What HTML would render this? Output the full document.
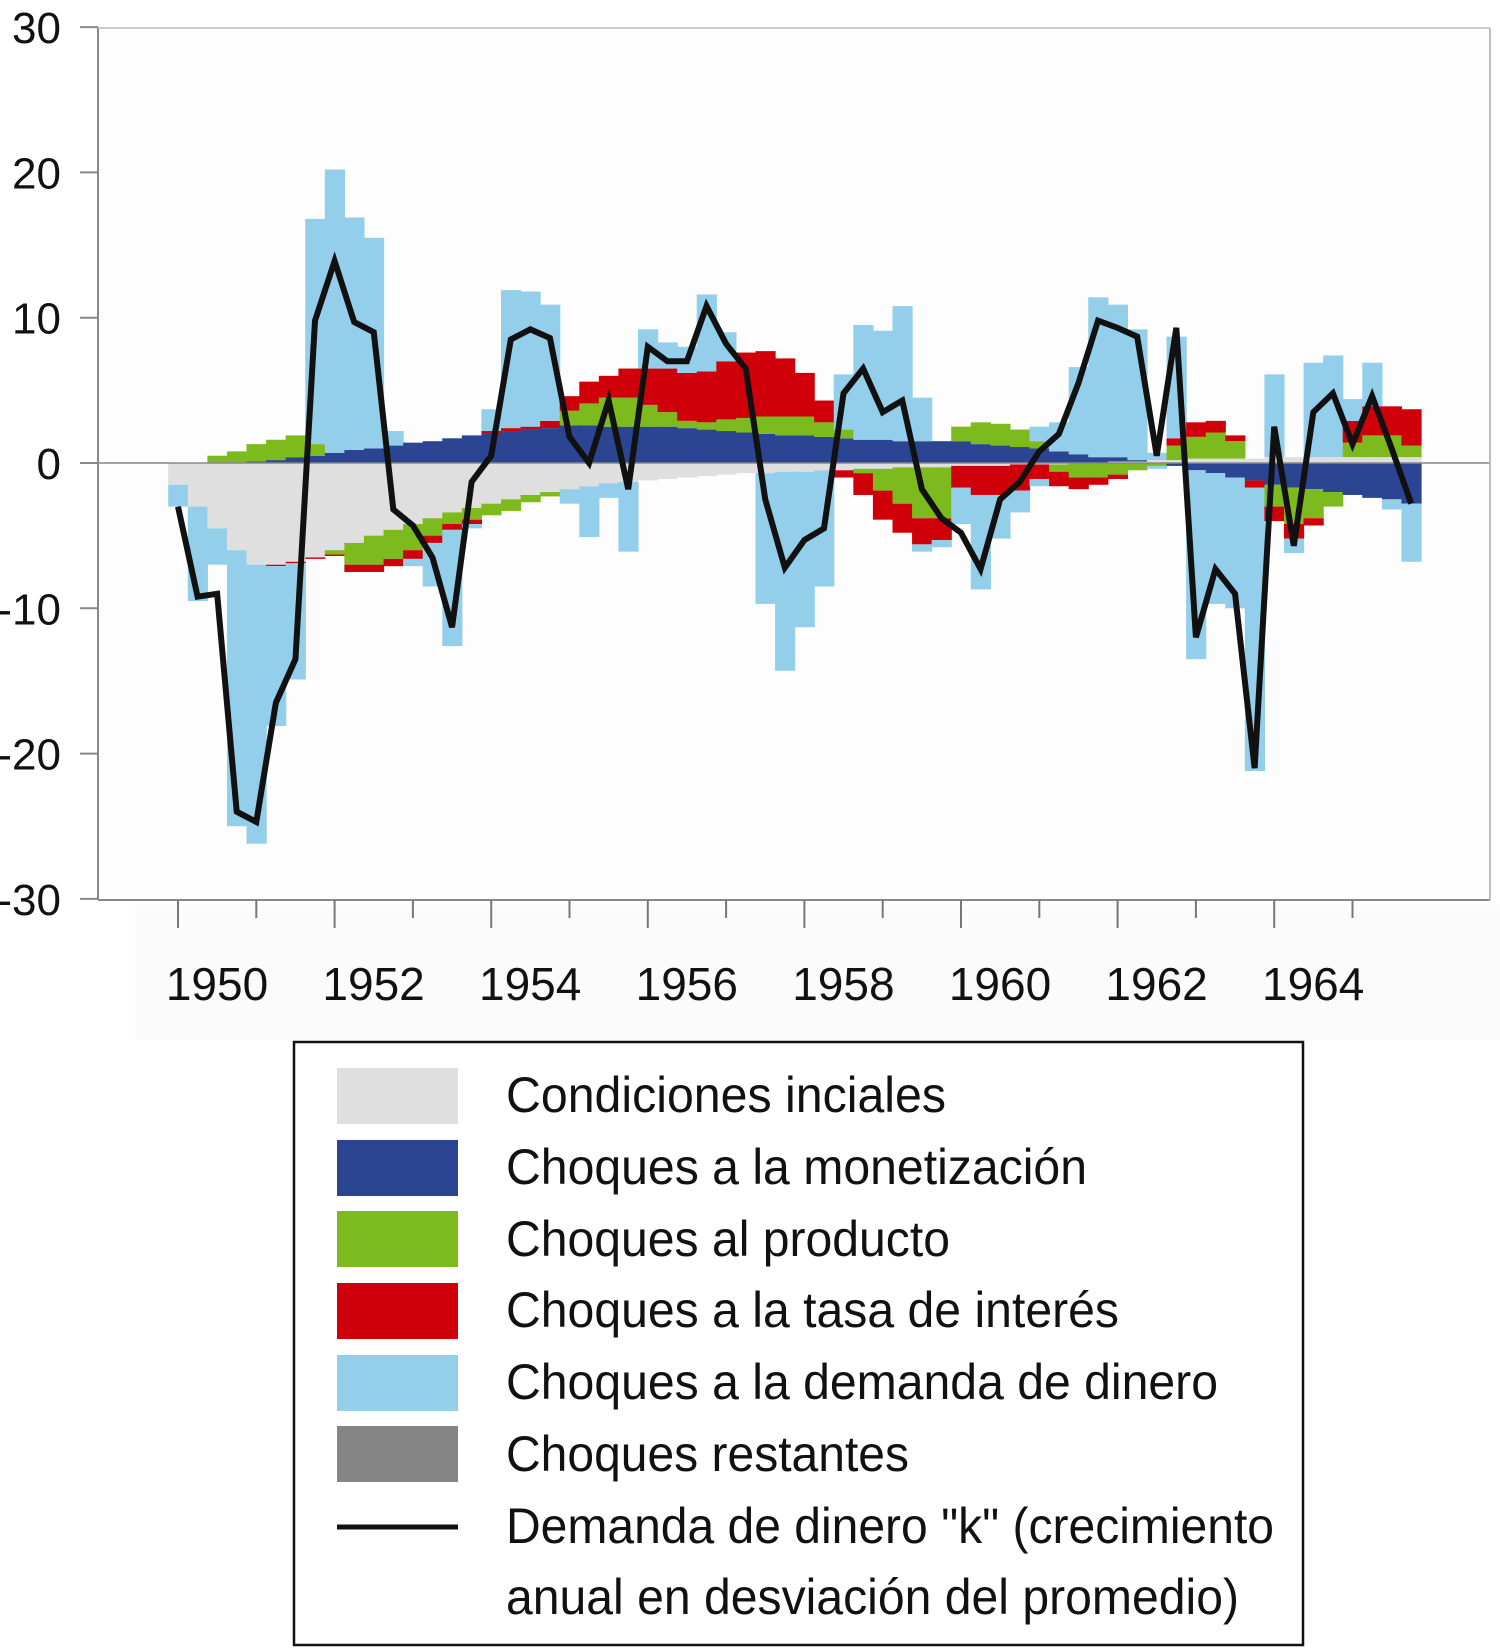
<!DOCTYPE html>
<html><head><meta charset="utf-8"><style>html,body{margin:0;padding:0;background:#fff}svg{display:block}</style></head>
<body>
<svg id="chart" width="1500" height="1651" viewBox="0 0 1500 1651" xmlns="http://www.w3.org/2000/svg" font-family="'Liberation Sans Narrow','Liberation Sans',sans-serif">
<rect x="135" y="905" width="1365" height="135" fill="#fbfbfb"/>
<rect x="98" y="28" width="1392" height="872" fill="#fdfdfd"/>
<g id="bars"></g>
<line x1="98" x2="1490" y1="463" y2="463" stroke="#888" stroke-width="1.5"/>
<polyline id="kline" fill="none" stroke="#111" stroke-width="6" stroke-linejoin="miter"/>
<g id="axes"></g>
<g>
<rect x="294" y="1042" width="1009" height="603" fill="#fff" stroke="#111" stroke-width="2.5"/>
<rect x="337" y="1068" width="121" height="56" fill="#dfdfdf"/>
<rect x="337" y="1140" width="121" height="56" fill="#2b4593"/>
<rect x="337" y="1211" width="121" height="56" fill="#7dba1e"/>
<rect x="337" y="1283" width="121" height="56" fill="#cf000a"/>
<rect x="337" y="1355" width="121" height="56" fill="#93cfea"/>
<rect x="337" y="1426" width="121" height="56" fill="#858585"/>
<line x1="337" x2="458" y1="1527" y2="1527" stroke="#111" stroke-width="5"/>
<g font-size="50" fill="#111">
<text x="506" y="1112" textLength="440" lengthAdjust="spacingAndGlyphs">Condiciones inciales</text>
<text x="506" y="1184" textLength="581" lengthAdjust="spacingAndGlyphs">Choques a la monetización</text>
<text x="506" y="1256" textLength="444" lengthAdjust="spacingAndGlyphs">Choques al producto</text>
<text x="506" y="1327" textLength="613" lengthAdjust="spacingAndGlyphs">Choques a la tasa de interés</text>
<text x="506" y="1399" textLength="712" lengthAdjust="spacingAndGlyphs">Choques a la demanda de dinero</text>
<text x="506" y="1471" textLength="403" lengthAdjust="spacingAndGlyphs">Choques restantes</text>
<text x="506" y="1543" textLength="768" lengthAdjust="spacingAndGlyphs">Demanda de dinero "k" (crecimiento</text>
<text x="506" y="1614" textLength="733" lengthAdjust="spacingAndGlyphs">anual en desviación del promedio)</text>
</g></g>
</svg>
<script>
const lineK=[-3,-9.2,-9,-24,-24.7,-16.5,-13.5,9.8,13.9,9.7,9,-3.2,-4.3,-6.5,-11.3,-1.3,0.5,8.5,9.2,8.6,1.8,0,4.3,-1.8,8,7,7,10.8,8.2,6.5,-2.5,-7.2,-5.3,-4.5,4.8,6.5,3.5,4.3,-1.8,-3.8,-4.8,-7.3,-2.5,-1.3,0.8,2,5.5,9.8,9.3,8.7,0.5,9.3,-12,-7.3,-9,-21,2.5,-5.7,3.5,4.8,1.3,4.6,1,-2.8];
const initial=[-1.5,-3,-4.5,-6,-7,-7,-6.8,-6.5,-6,-5.5,-5,-4.6,-4.2,-3.8,-3.4,-3.1,-2.8,-2.5,-2.2,-2,-1.8,-1.6,-1.4,-1.3,-1.2,-1.1,-1,-0.9,-0.8,-0.7,-0.7,-0.6,-0.6,-0.5,-0.5,-0.4,-0.4,-0.3,-0.3,-0.3,-0.2,-0.2,-0.2,-0.1,-0.1,-0.1,0,0,0.1,0.1,0.2,0.2,0.3,0.3,0.3,0.3,0.4,0.4,0.4,0.4,0.4,0.4,0.4,0.4];
const monetization=[0,0,0,0,0.1,0.2,0.4,0.5,0.7,0.9,1.0,1.2,1.4,1.5,1.7,1.9,2.0,2.2,2.3,2.4,2.6,2.6,2.5,2.5,2.5,2.5,2.4,2.3,2.2,2.1,2.0,1.9,1.9,1.8,1.7,1.6,1.6,1.5,1.5,1.5,1.5,1.3,1.2,1.1,1.0,0.8,0.6,0.4,0.3,0.1,0,-0.2,-0.5,-0.7,-1,-1.2,-1.5,-1.7,-1.8,-2,-2.2,-2.4,-2.5,-2.8];
const product=[0,0,0.5,0.8,1.2,1.4,1.5,0.8,-0.3,-1.5,-2,-2,-1.8,-1.2,-0.8,-0.8,-0.8,-0.8,-0.5,-0.3,1,1.5,2,2,1.5,1,0.5,0.5,0.8,1,1.2,1.3,1.3,1,0.6,-0.3,-1.5,-2.5,-3.5,-3.5,1.0,1.5,1.5,1.2,0.5,-0.5,-1,-1,-0.8,-0.5,-0.2,1,1.5,1.8,1.2,0,-1.5,-2.5,-2,-1,1,1.5,1.5,0.8];
const interest=[0,0,0,0,0,-0.1,-0.1,-0.1,-0.1,-0.5,-0.5,-0.5,-0.6,-0.5,-0.4,-0.3,0.2,0.2,0.2,0.5,1,1.5,1.5,2,2.5,3,3.3,3.5,4,4.5,4.5,4,3,1.5,-0.5,-1.5,-2,-2,-1.8,-1.5,-1.5,-2,-2,-1.8,-1,-1,-0.8,-0.5,-0.3,0,0,0.5,1,0.8,0.4,-0.5,-1,-1,-0.5,0,1.5,2,2,2.5];
const moneyDemandPos=[0,0,0,0,0,0,0,15.5,19.5,16,14.5,1,0,0,0,0,1.5,9.5,9.3,8,0,0,0,0,2.7,1.8,1.8,5.3,2,0,0,0,0,0,3.8,7.9,7.5,9.3,3,0,0,0,0,0,1,2,6,11,10.5,9,0.5,7,0,0,0,0,5.7,0,6.5,7,1.5,3,0,0];
const moneyDemandNeg=[-1.5,-6.5,-2.5,-19,-19.2,-11,-8,0,0,0,0,0,-0.5,-3,-8,-0.3,0,0,0,0,-1,-3.5,-1,-4.8,0,0,0,0,0,0,-9,-13.7,-10.7,-8,0,0,0,0,-0.5,-0.5,-2.5,-6.5,-3,-1.5,-0.5,0,0,0,0,0,-0.2,0,-13,-9,-9,-19.5,0,-1,0,0,0,0,-0.7,-4];
const yTicks=[30,20,10,0,-10,-20,-30];
const yearLabels=[1950,1952,1954,1956,1958,1960,1962,1964];

const NS='http://www.w3.org/2000/svg';
const X0=178, QW=78.3/4;
function xScale(i){return X0+i*QW;}
function xYear(y){return X0+(y-1950)*78.3;}
function yScale(v){return 463-v*14.53;}
const bars=document.getElementById('bars');
const series=[['initial',initial,'#dfdfdf'],['monetization',monetization,'#2b4593'],['product',product,'#7dba1e'],['interest',interest,'#cf000a'],['money-demand',moneyDemandPos,'#93cfea'],['money-demand',moneyDemandNeg,'#93cfea']];
for(let i=0;i<lineK.length;i++){
  let pos=0,neg=0;
  for(const [nm,arr,col] of series){
    const v=arr[i]; if(!v) continue;
    let a,b;
    if(v>0){a=pos;b=pos+v;pos=b;}else{a=neg;b=neg+v;neg=b;}
    const r=document.createElementNS(NS,'rect');
    r.setAttribute('x',xScale(i)-QW/2);
    r.setAttribute('width',QW+0.6);
    r.setAttribute('y',Math.min(yScale(a),yScale(b)));
    r.setAttribute('height',Math.abs(yScale(a)-yScale(b)));
    r.setAttribute('fill',col);
    
    
    bars.appendChild(r);
  }
}
document.getElementById('kline').setAttribute('points',lineK.map((v,i)=>xScale(i)+','+yScale(v)).join(' '));
const ax=document.getElementById('axes');
function el(t,attrs,txt){const e=document.createElementNS(NS,t);for(const k in attrs)e.setAttribute(k,attrs[k]);if(txt!==undefined)e.textContent=txt;ax.appendChild(e);return e;}
const yl=el('line',{x1:98,x2:98,y1:28,y2:900,stroke:'#888','stroke-width':2});


const xl=el('line',{x1:98,x2:1490,y1:900,y2:900,stroke:'#888','stroke-width':2});


el('line',{x1:1490,x2:1490,y1:28,y2:900,stroke:'#aaa','stroke-width':1.5});
el('line',{x1:98,x2:1490,y1:28,y2:28,stroke:'#bbb','stroke-width':1.5});
for(const t of yTicks){
  el('line',{x1:80,x2:98,y1:yScale(t),y2:yScale(t),stroke:'#888','stroke-width':2});
  const tx=el('text',{x:61,y:yScale(t)+16,'text-anchor':'end','font-size':44,fill:'#111'},String(t));
  
  
}
for(let y=1950;y<=1965;y++){
  el('line',{x1:xYear(y),x2:xYear(y),y1:900,y2:(y%2===0?928:918),stroke:'#777','stroke-width':2});
}
for(const y of yearLabels){
  const tx=el('text',{x:xYear(y)+39,y:1000,'text-anchor':'middle','font-size':46,fill:'#111'},String(y));
  
  
}
</script>
</body></html>
